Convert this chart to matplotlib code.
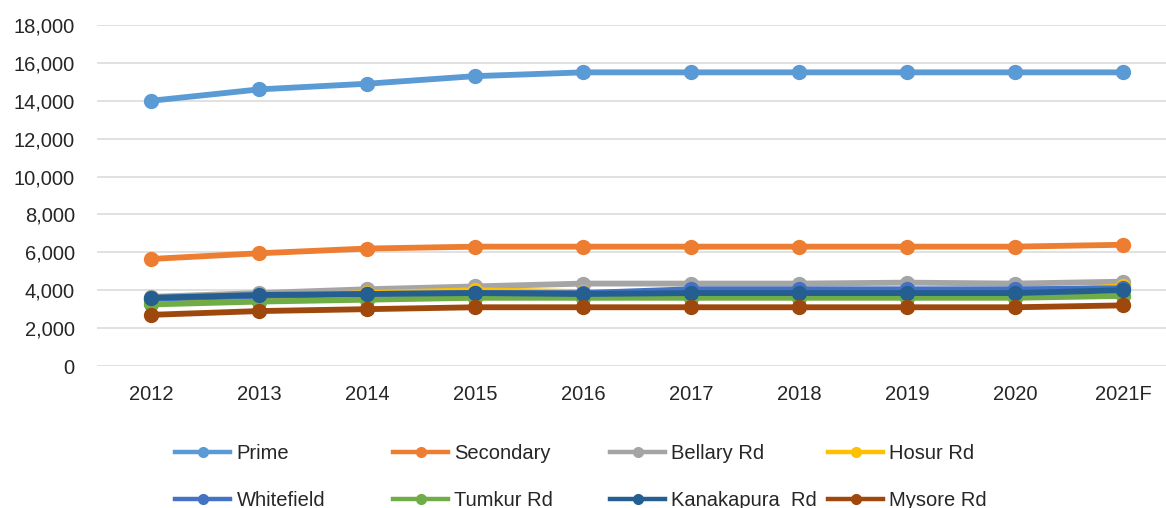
import matplotlib

matplotlib.use("Agg")
import matplotlib.pyplot as plt
from matplotlib.ticker import FuncFormatter

years = ["2012", "2013", "2014", "2015", "2016", "2017", "2018", "2019", "2020", "2021F"]

prime = [14000, 14600, 14900, 15300, 15500, 15500, 15500, 15500, 15500, 15500]
secondary = [5650, 5950, 6200, 6300, 6300, 6300, 6300, 6300, 6300, 6400]
bellary = [3650, 3850, 4050, 4200, 4350, 4350, 4350, 4400, 4350, 4450]
hosur = [3500, 3650, 3850, 4000, 3900, 3900, 3900, 3900, 3900, 4200]
whitefield = [3550, 3700, 3800, 3850, 3850, 4050, 4050, 4050, 4050, 4100]
tumkur = [3250, 3400, 3500, 3600, 3600, 3600, 3600, 3600, 3600, 3700]
kanakapura = [3600, 3750, 3800, 3850, 3800, 3850, 3850, 3850, 3850, 4000]
mysore = [2700, 2900, 3000, 3100, 3100, 3100, 3100, 3100, 3100, 3200]

series = [
    ("Prime", prime, "#5B9BD5"),
    ("Secondary", secondary, "#ED7D31"),
    ("Bellary Rd", bellary, "#A5A5A5"),
    ("Hosur Rd", hosur, "#FFC000"),
    ("Whitefield", whitefield, "#4472C4"),
    ("Tumkur Rd", tumkur, "#70AD47"),
    ("Kanakapura  Rd", kanakapura, "#255E91"),
    ("Mysore Rd", mysore, "#9E480E"),
]

TXT = "#262626"
GRID = "#D9D9D9"

plt.rcParams.update({"font.family": ["Liberation Sans", "DejaVu Sans"]})

W, H = 1166, 508
fig = plt.figure(figsize=(W / 100, H / 100), dpi=100)
ax = fig.add_axes([97 / W, 1 - 366 / H, (1177 - 97) / W, (366 - 25) / H])

x = list(range(len(years)))
for i, (name, vals, col) in enumerate(series):
    ax.plot(x, vals, color=col, lw=4.2, marker="o", ms=10,
            solid_capstyle="round", zorder=3 + i)

ax.set_xlim(-0.5, len(years) - 0.5)
ax.set_ylim(0, 18000)
ax.set_yticks(range(0, 18001, 2000))
ax.yaxis.set_major_formatter(FuncFormatter(lambda v, p: f"{int(v):,}"))
ax.set_xticks(x)
ax.set_xticklabels(years)
ax.grid(axis="y", color=GRID, lw=1.1)
ax.set_axisbelow(True)
for s in ax.spines.values():
    s.set_visible(False)
ax.tick_params(axis="both", length=0, labelsize=14.5, labelcolor=TXT)
ax.tick_params(axis="y", pad=16)
ax.tick_params(axis="x", pad=14)

# Legend: four columns of two entries, placed like the Excel layout.
handles = [plt.Line2D([], [], color=col, lw=3.2, marker="o", ms=7, label=name)
           for name, _, col in series]
col_x = [175, 393, 610, 828]
for c, cx in enumerate(col_x):
    fig.legend(handles=[handles[c], handles[c + 4]], loc="upper left",
               bbox_to_anchor=(cx / W, 1 - 444 / H),
               frameon=False, fontsize=14.5, handlelength=2.75,
               handletextpad=0.3, labelspacing=1.4, borderpad=0,
               borderaxespad=0, labelcolor=TXT)

fig.savefig("out.png", dpi=100, facecolor="white")
